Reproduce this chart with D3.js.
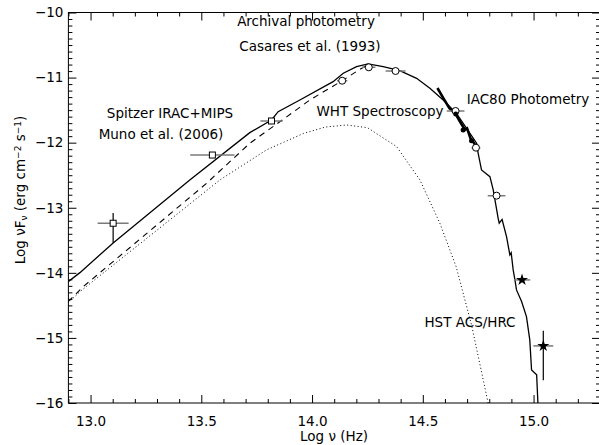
<!DOCTYPE html>
<html>
<head>
<meta charset="utf-8">
<script src="https://cdn.jsdelivr.net/npm/d3@7"></script>
<style>
  body { margin: 0; background: #fff; }
  svg { display: block; }
  text { font-family: "DejaVu Sans", sans-serif; fill: #000; }
</style>
</head>
<body>
<svg id="chart" width="599" height="445"></svg>
<script>
// Axis tick labels
const xTickValues = [13.0, 13.5, 14.0, 14.5, 15.0];
const yTickValues = [-10, -11, -12, -13, -14, -15, -16];

// Total model SED (log nu, log nuFnu)
const modelTotal = [
  [12.899, -14.135], [12.952, -13.997], [13.102, -13.541], [13.448, -12.573],
  [13.719, -11.846], [13.817, -11.651], [13.847, -11.524], [13.945, -11.344],
  [14.095, -11.063], [14.141, -10.934], [14.201, -10.832], [14.253, -10.791],
  [14.321, -10.832], [14.396, -10.894], [14.472, -11.011], [14.532, -11.164],
  [14.592, -11.344], [14.652, -11.549], [14.743, -12.009], [14.750, -12.163],
  [14.765, -12.419], [14.803, -12.522], [14.818, -12.726], [14.840, -13.161],
  [14.845, -13.238], [14.858, -13.180], [14.878, -13.444], [14.893, -13.724],
  [14.899, -13.690], [14.908, -13.955], [14.916, -14.109], [14.923, -14.262],
  [14.946, -14.442], [14.968, -14.673], [14.983, -15.031], [14.991, -15.492],
  [15.014, -15.568], [15.021, -16.100]
];

// Stellar component (dashed)
const modelStar = [
  [12.899, -14.442], [12.967, -14.212], [13.524, -12.624], [13.719, -12.009],
  [13.870, -11.641], [13.990, -11.344], [14.136, -11.048], [14.216, -10.873],
  [14.253, -10.800]
];

// Thermal component (dotted)
const modelThermal = [
  [12.899, -14.462], [12.952, -14.289], [13.584, -12.573], [13.794, -12.112],
  [13.960, -11.860], [14.060, -11.760], [14.156, -11.728], [14.250, -11.770],
  [14.382, -12.061], [14.487, -12.573], [14.577, -13.238], [14.650, -13.900],
  [14.720, -14.800], [14.795, -16.000]
];

// WHT optical spectrum
const whtSpectrum = [
  [14.566, -11.160], [14.590, -11.300], [14.620, -11.470], [14.649, -11.560],
  [14.665, -11.660], [14.690, -11.800], [14.700, -11.780], [14.715, -11.930],
  [14.730, -12.000], [14.745, -12.080]
];

// Spitzer IRAC+MIPS photometry
const spitzerNu   = [13.102, 13.550, 13.817];
const spitzerF    = [-13.238, -12.190, -11.667];
const spitzerDx   = [0.070, 0.100, 0.050];
const spitzerHi   = [-13.080, -12.160, -11.640];
const spitzerLo   = [-13.540, -12.220, -11.690];

// Archival photometry
const archNu = [14.136, 14.256, 14.377, 14.648, 14.740, 14.833];
const archF  = [-11.048, -10.842, -10.899, -11.513, -12.077, -12.814];
const archDx = [0.023, 0.030, 0.045, 0.040, 0.020, 0.040];

// IAC80 photometry
const iacNu = [14.649, 14.682, 14.720];
const iacF  = [-11.560, -11.805, -11.970];

// HST ACS/HRC photometry
const hstNu = [14.948, 15.044];
const hstF  = [-14.109, -15.123];
const hstDx = [0.037, 0.045];
const hstHi = [-14.109, -14.890];
const hstLo = [-14.109, -15.650];

const svg = d3.select("#chart");
const pLeft = 68.4, pRight = 600, pTop = 12.5, pBottom = 403;

const x = d3.scaleLinear().domain([12.9, 15.3]).range([pLeft, pRight]);
const y = d3.scaleLinear().domain([-16, -10]).range([pBottom, pTop]);

svg.append("defs").append("clipPath").attr("id", "plotArea")
  .append("rect").attr("x", pLeft).attr("y", pTop)
  .attr("width", pRight - pLeft).attr("height", pBottom - pTop);

// Minor tick positions
const xMinor = d3.range(129, 154).map(d => d / 10).filter(v => Math.abs(v * 2 - Math.round(v * 2)) > 1e-6);
const yMinor = d3.range(-160, -99).map(d => d / 10).filter(v => Math.abs(v - Math.round(v)) > 1e-6);

function styleAxis(g) {
  g.select(".domain").remove();
  g.selectAll("line").attr("stroke", "#000").attr("stroke-width", 1);
  g.selectAll("text").style("font-size", "13.5px").attr("fill", "#000");
}

// bottom
svg.append("g").attr("transform", `translate(0,${pBottom})`)
  .call(d3.axisBottom(x).tickValues(xTickValues).tickSize(-8).tickPadding(13).tickFormat(d3.format(".1f")))
  .call(styleAxis);
svg.append("g").attr("transform", `translate(0,${pBottom})`)
  .call(d3.axisBottom(x).tickValues(xMinor).tickSize(-4).tickFormat(""))
  .call(styleAxis);
// top
svg.append("g").attr("transform", `translate(0,${pTop})`)
  .call(d3.axisTop(x).tickValues(xTickValues).tickSize(-8).tickFormat(""))
  .call(styleAxis);
svg.append("g").attr("transform", `translate(0,${pTop})`)
  .call(d3.axisTop(x).tickValues(xMinor).tickSize(-4).tickFormat(""))
  .call(styleAxis);
// left
svg.append("g").attr("transform", `translate(${pLeft},0)`)
  .call(d3.axisLeft(y).tickValues(yTickValues).tickSize(-8).tickPadding(5).tickFormat(d => d3.format("d")(d).replace("-", "\u2212")))
  .call(styleAxis);
svg.append("g").attr("transform", `translate(${pLeft},0)`)
  .call(d3.axisLeft(y).tickValues(yMinor).tickSize(-4).tickFormat(""))
  .call(styleAxis);
// right
svg.append("g").attr("transform", `translate(${pRight},0)`)
  .call(d3.axisRight(y).tickValues(yTickValues).tickSize(-8).tickFormat(""))
  .call(styleAxis);
svg.append("g").attr("transform", `translate(${pRight},0)`)
  .call(d3.axisRight(y).tickValues(yMinor).tickSize(-4).tickFormat(""))
  .call(styleAxis);

// frame
svg.append("rect").attr("x", pLeft).attr("y", pTop)
  .attr("width", pRight - pLeft).attr("height", pBottom - pTop)
  .attr("fill", "none").attr("stroke", "#000").attr("stroke-width", 1);

// axis titles
svg.append("text").attr("x", 334).attr("y", 441).attr("text-anchor", "middle")
  .style("font-size", "13.5px").text("Log \u03BD (Hz)");

const yt = svg.append("text").attr("transform", "translate(25,190) rotate(-90)")
  .attr("text-anchor", "middle").style("font-size", "13.5px");
yt.append("tspan").text("Log \u03BDF");
yt.append("tspan").attr("baseline-shift", "-25%").style("font-size", "9px").text("\u03BD");
yt.append("tspan").text(" (erg cm");
yt.append("tspan").attr("baseline-shift", "45%").style("font-size", "9px").text("\u22122");
yt.append("tspan").text(" s");
yt.append("tspan").attr("baseline-shift", "45%").style("font-size", "9px").text("\u22121");
yt.append("tspan").text(")");

const plot = svg.append("g").attr("clip-path", "url(#plotArea)");
const line = d3.line().x(d => x(d[0])).y(d => y(d[1]));

plot.append("path").datum(modelThermal).attr("d", line)
  .attr("fill", "none").attr("stroke", "#000").attr("stroke-width", 1)
  .attr("stroke-dasharray", "1,2.5");
plot.append("path").datum(modelStar).attr("d", line)
  .attr("fill", "none").attr("stroke", "#000").attr("stroke-width", 1.1)
  .attr("stroke-dasharray", "6,5");
plot.append("path").datum(modelTotal).attr("d", line)
  .attr("fill", "none").attr("stroke", "#000").attr("stroke-width", 1.3);
plot.append("path").datum(whtSpectrum).attr("d", line)
  .attr("fill", "none").attr("stroke", "#000").attr("stroke-width", 2.6);

const grey = "#7a7a7a";

// Spitzer points
spitzerNu.forEach((v, i) => {
  plot.append("line").attr("x1", x(v - spitzerDx[i])).attr("x2", x(v + spitzerDx[i]))
    .attr("y1", y(spitzerF[i])).attr("y2", y(spitzerF[i])).attr("stroke", grey).attr("stroke-width", 1.5);
  plot.append("line").attr("x1", x(v)).attr("x2", x(v))
    .attr("y1", y(spitzerHi[i])).attr("y2", y(spitzerLo[i])).attr("stroke", "#000").attr("stroke-width", 1.2);
  plot.append("rect").attr("x", x(v) - 3).attr("y", y(spitzerF[i]) - 3)
    .attr("width", 6).attr("height", 6).attr("fill", "#fff").attr("stroke", "#000").attr("stroke-width", 1);
});

// Archival points
archNu.forEach((v, i) => {
  plot.append("line").attr("x1", x(v - archDx[i])).attr("x2", x(v + archDx[i]))
    .attr("y1", y(archF[i])).attr("y2", y(archF[i])).attr("stroke", grey).attr("stroke-width", 1.5);
  plot.append("circle").attr("cx", x(v)).attr("cy", y(archF[i])).attr("r", 3.5)
    .attr("fill", "#fff").attr("stroke", "#000").attr("stroke-width", 1);
});

// IAC80 points
iacNu.forEach((v, i) => {
  plot.append("circle").attr("cx", x(v)).attr("cy", y(iacF[i])).attr("r", 2.5).attr("fill", "#000");
});

// HST points
const star = d3.symbol().type(d3.symbolStar).size(45);
hstNu.forEach((v, i) => {
  plot.append("line").attr("x1", x(v - hstDx[i])).attr("x2", x(v + hstDx[i]))
    .attr("y1", y(hstF[i])).attr("y2", y(hstF[i])).attr("stroke", grey).attr("stroke-width", 1.5);
  if (hstHi[i] !== hstLo[i]) {
    plot.append("line").attr("x1", x(v)).attr("x2", x(v))
      .attr("y1", y(hstHi[i])).attr("y2", y(hstLo[i])).attr("stroke", "#000").attr("stroke-width", 1.2);
  }
  plot.append("path").attr("d", star).attr("transform", `translate(${x(v)},${y(hstF[i])})`).attr("fill", "#000");
});

// annotations
const notes = [
  { t: "Archival photometry", x: 306, y: 26 },
  { t: "Casares et al. (1993)", x: 310, y: 51 },
  { t: "Spitzer IRAC+MIPS", x: 170, y: 118 },
  { t: "Muno et al. (2006)", x: 161, y: 139 },
  { t: "WHT Spectroscopy", x: 380, y: 116 },
  { t: "IAC80 Photometry", x: 528, y: 104 },
  { t: "HST ACS/HRC", x: 470, y: 327 }
];
svg.selectAll("text.note").data(notes).join("text").attr("class", "note")
  .attr("x", d => d.x).attr("y", d => d.y).attr("text-anchor", "middle")
  .style("font-size", "13.5px").text(d => d.t);
</script>
</body>
</html>
